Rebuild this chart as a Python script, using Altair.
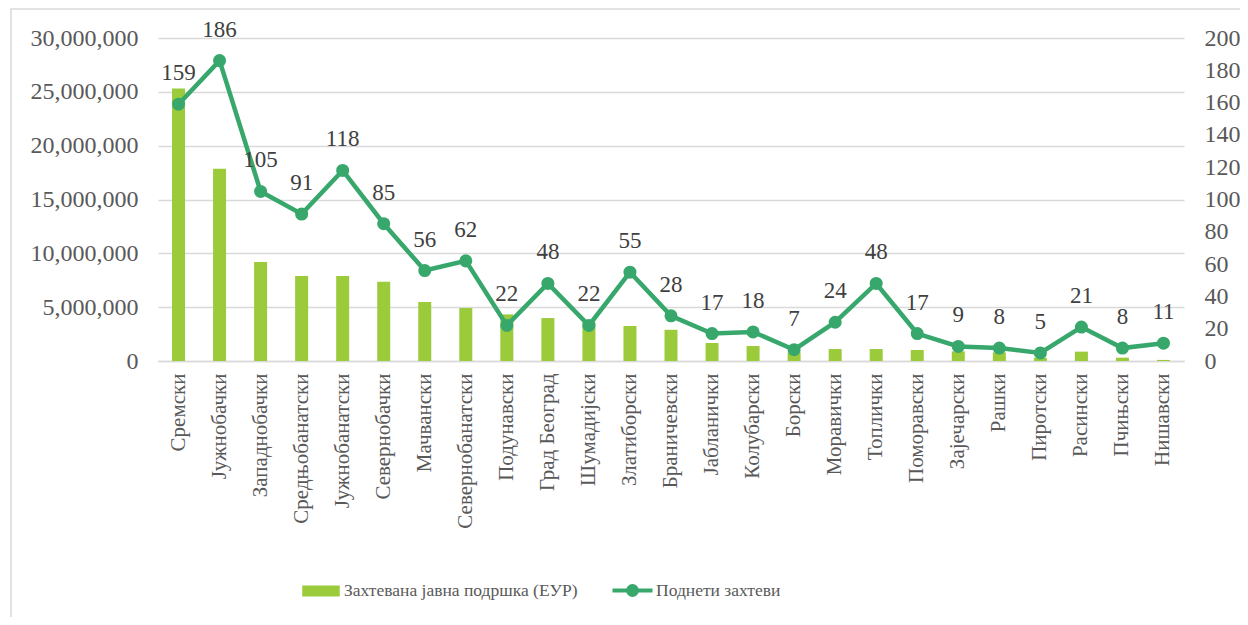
import altair as alt
import pandas as pd

districts = ["Сремски", "Јужнобачки", "Западнобачки", "Средњобанатски", "Јужнобанатски",
             "Севернобачки", "Мачвански", "Севернобанатски", "Подунавски", "Град Београд",
             "Шумадијски", "Златиборски", "Браничевски", "Јабланички", "Колубарски",
             "Борски", "Моравички", "Топлички", "Поморавски", "Зајечарски",
             "Рашки", "Пиротски", "Расински", "Пчињски", "Нишавски"]
support_eur = [25300000, 17850000, 9200000, 7900000, 7900000,
               7350000, 5480000, 4920000, 4330000, 3990000,
               3600000, 3250000, 2900000, 1670000, 1390000,
               800000, 1110000, 1110000, 1020000, 900000,
               800000, 300000, 870000, 310000, 100000]
requests = [159, 186, 105, 91, 118, 85, 56, 62, 22, 48, 22, 55, 28, 17, 18,
            7, 24, 48, 17, 9, 8, 5, 21, 8, 11]

bar_label = "Захтевана јавна подршка (ЕУР)"
line_label = "Поднети захтеви"

df = pd.DataFrame({"district": districts, "support": support_eur, "requests": requests})

FONT = "Liberation Serif"
BAR_C = "#9bcb3b"
LINE_C = "#38a76c"
TXT = "#595959"

x = alt.X("district:N", sort=None, title=None,
          axis=alt.Axis(labelAngle=-90, labelFontSize=21, labelFont=FONT, labelColor=TXT,
                        ticks=False, domainColor="#d9d9d9", domainWidth=1.5,
                        labelPadding=12, labelLimit=300))

base = alt.Chart(df)

bars = base.mark_bar(size=13).encode(
    x=x,
    y=alt.Y("support:Q", title=None,
            scale=alt.Scale(domain=[0, 30000000]),
            axis=alt.Axis(values=[0, 5000000, 10000000, 15000000, 20000000, 25000000, 30000000],
                          format=",d", labelFontSize=24, labelFont=FONT, labelColor=TXT,
                          ticks=False, domain=False, labelPadding=20,
                          gridColor="#d9d9d9", gridWidth=1.5)),
    fill=alt.Fill("b:N", title=None,
                  scale=alt.Scale(domain=[bar_label], range=[BAR_C]),
                  legend=alt.Legend(orient="none", legendX=153, legendY=543,
                                    symbolType="M-1.9,-0.55H1.9V0.55H-1.9Z", symbolSize=390,
                                    labelFontSize=17.5, labelFont=FONT, labelColor=TXT,
                                    symbolStrokeWidth=0, labelOffset=13, labelLimit=500)),
).transform_calculate(b=f"'{bar_label}'")

yr = alt.Y("requests:Q", title=None, scale=alt.Scale(domain=[0, 200]),
           axis=alt.Axis(orient="right", values=list(range(0, 201, 20)), labelFontSize=24,
                         labelFont=FONT, labelColor=TXT, ticks=False, domain=False,
                         grid=False, labelPadding=20))

line = base.mark_line(strokeWidth=4.5).encode(
    x=x,
    y=yr,
    stroke=alt.Stroke("l:N", title=None,
                      scale=alt.Scale(domain=[line_label], range=[LINE_C]),
                      legend=alt.Legend(orient="none", legendX=459, legendY=537,
                                        symbolType="M-1.5,0H1.5M-0.33,0A0.33,0.33 0 1,0 0.33,0A0.33,0.33 0 1,0 -0.33,0Z",
                                        symbolSize=711, symbolStrokeWidth=4,
                                        symbolFillColor=LINE_C, symbolStrokeColor=LINE_C,
                                        labelFontSize=17.5, labelFont=FONT, labelColor=TXT,
                                        labelOffset=8, labelLimit=500)),
).transform_calculate(l=f"'{line_label}'")

points = base.mark_circle(size=170, opacity=1, color=LINE_C).encode(x=x, y=yr)

labels = base.mark_text(baseline="middle", dy=-31, fontSize=23, font=FONT, color="#404040").encode(
    x=x, y=yr, text="requests:Q")

frame = alt.Chart(pd.DataFrame({"a": [0]})).mark_rect(filled=False, stroke="#d9d9d9", strokeWidth=1.5).encode(
    x=alt.value(-147), x2=alt.value(1200), y=alt.value(-29), y2=alt.value(700))

right_layer = alt.layer(line, points, labels)

chart = alt.layer(frame, bars, right_layer).resolve_scale(y="independent").properties(
    width=1026, height=323,
    autosize=alt.AutoSizeParams(type="none"),
    padding={"left": 150, "top": 30, "right": 56, "bottom": 256},
).configure(background="white", font=FONT).configure_view(stroke=None).configure_axis(
    labelFont=FONT).configure_legend(labelFont=FONT).configure_text(font=FONT)

chart.save("out.html", embed_options={"renderer": "svg", "actions": False})
